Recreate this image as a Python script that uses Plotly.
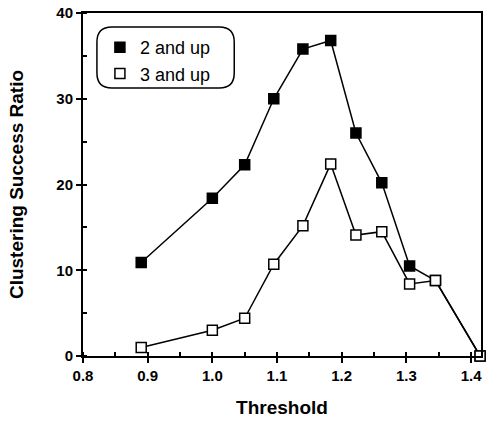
import plotly.graph_objects as go

threshold = [0.89, 1.0, 1.05, 1.095, 1.14, 1.183, 1.222, 1.262, 1.305, 1.345, 1.414]
two_and_up = [10.9, 18.4, 22.3, 30.0, 35.8, 36.8, 26.0, 20.2, 10.5, 8.8, 0.0]
three_and_up = [1.0, 3.0, 4.4, 10.7, 15.2, 22.4, 14.1, 14.5, 8.4, 8.8, 0.0]
series_names = ["2 and up", "3 and up"]
x_ticks = [0.8, 0.9, 1.0, 1.1, 1.2, 1.3, 1.4]
y_ticks = [0, 10, 20, 30, 40]

W, H = 486, 422
ML, MR, MT, MB = 83, 3, 13, 66
PW, PH = W - ML - MR, H - MT - MB
FONT = "Liberation Sans, Arial, sans-serif"

fig = go.Figure()
fig.add_trace(go.Scatter(x=threshold, y=two_and_up, mode="lines+markers", showlegend=False,
                         line=dict(color="black", width=1.5),
                         marker=dict(symbol="square", size=10, color="black",
                                     line=dict(color="black", width=1.5)),
                         cliponaxis=False))
fig.add_trace(go.Scatter(x=threshold, y=three_and_up, mode="lines+markers", showlegend=False,
                         line=dict(color="black", width=1.5),
                         marker=dict(symbol="square", size=10, color="white",
                                     line=dict(color="black", width=1.5)),
                         cliponaxis=False))
# legend entries (markers only)
fig.add_trace(go.Scatter(x=[None], y=[None], mode="markers", name=series_names[0],
                         marker=dict(symbol="square", size=10, color="black",
                                     line=dict(color="black", width=1.5))))
fig.add_trace(go.Scatter(x=[None], y=[None], mode="markers", name=series_names[1],
                         marker=dict(symbol="square", size=10, color="white",
                                     line=dict(color="black", width=1.5))))

def px2paper(px, py):
    return (px - ML) / PW, (H - MB - py) / PH

# rounded legend box
x0, y0 = px2paper(97, 88)
x1, y1 = px2paper(235, 27)
rx, ry = 15 / PW, 15 / PH
path = (f"M {x0+rx},{y1} L {x1-rx},{y1} Q {x1},{y1} {x1},{y1-ry} "
        f"L {x1},{y0+ry} Q {x1},{y0} {x1-rx},{y0} L {x0+rx},{y0} "
        f"Q {x0},{y0} {x0},{y0+ry} L {x0},{y1-ry} Q {x0},{y1} {x0+rx},{y1} Z")
fig.add_shape(type="path", path=path, xref="paper", yref="paper",
              line=dict(color="black", width=1.5), fillcolor="rgba(0,0,0,0)")

lx, ly = px2paper(100, 29)
fig.update_layout(
    width=W, height=H,
    margin=dict(l=ML, r=MR, t=MT, b=MB),
    paper_bgcolor="white", plot_bgcolor="white",
    font=dict(family=FONT, color="black"),
    legend=dict(x=lx, y=ly, xanchor="left", yanchor="top",
                bgcolor="rgba(0,0,0,0)", borderwidth=0,
                font=dict(size=18, family=FONT),
                itemwidth=30, tracegroupgap=0),
    showlegend=True,
)
fig.update_xaxes(range=[0.8, 0.8 + PW / 650], tickvals=x_ticks, tickformat=".1f",
                 ticks="outside", ticklen=5, tickwidth=1.5, tickcolor="black",
                 minor=dict(dtick=0.05, tick0=0.8, ticks="inside", ticklen=4, tickwidth=1.5, tickcolor="black"),
                 showline=True, linecolor="black", linewidth=2, mirror=True,
                 showgrid=False, zeroline=False,
                 tickfont=dict(size=15, family=FONT, weight="bold"),
                 title=dict(text="<b>Threshold</b>", font=dict(size=19, family=FONT), standoff=18))
fig.update_yaxes(range=[0, 40], tickvals=y_ticks,
                 ticks="outside", ticklen=5, tickwidth=1.5, tickcolor="black",
                 minor=dict(dtick=5, tick0=0, ticks="inside", ticklen=4, tickwidth=1.5, tickcolor="black"),
                 showline=True, linecolor="black", linewidth=2, mirror=True,
                 showgrid=False, zeroline=False,
                 tickfont=dict(size=15, family=FONT, weight="bold"),
                 title=dict(text="<b>Clustering Success Ratio</b>", font=dict(size=19, family=FONT), standoff=28))

fig.write_html("out.html")
